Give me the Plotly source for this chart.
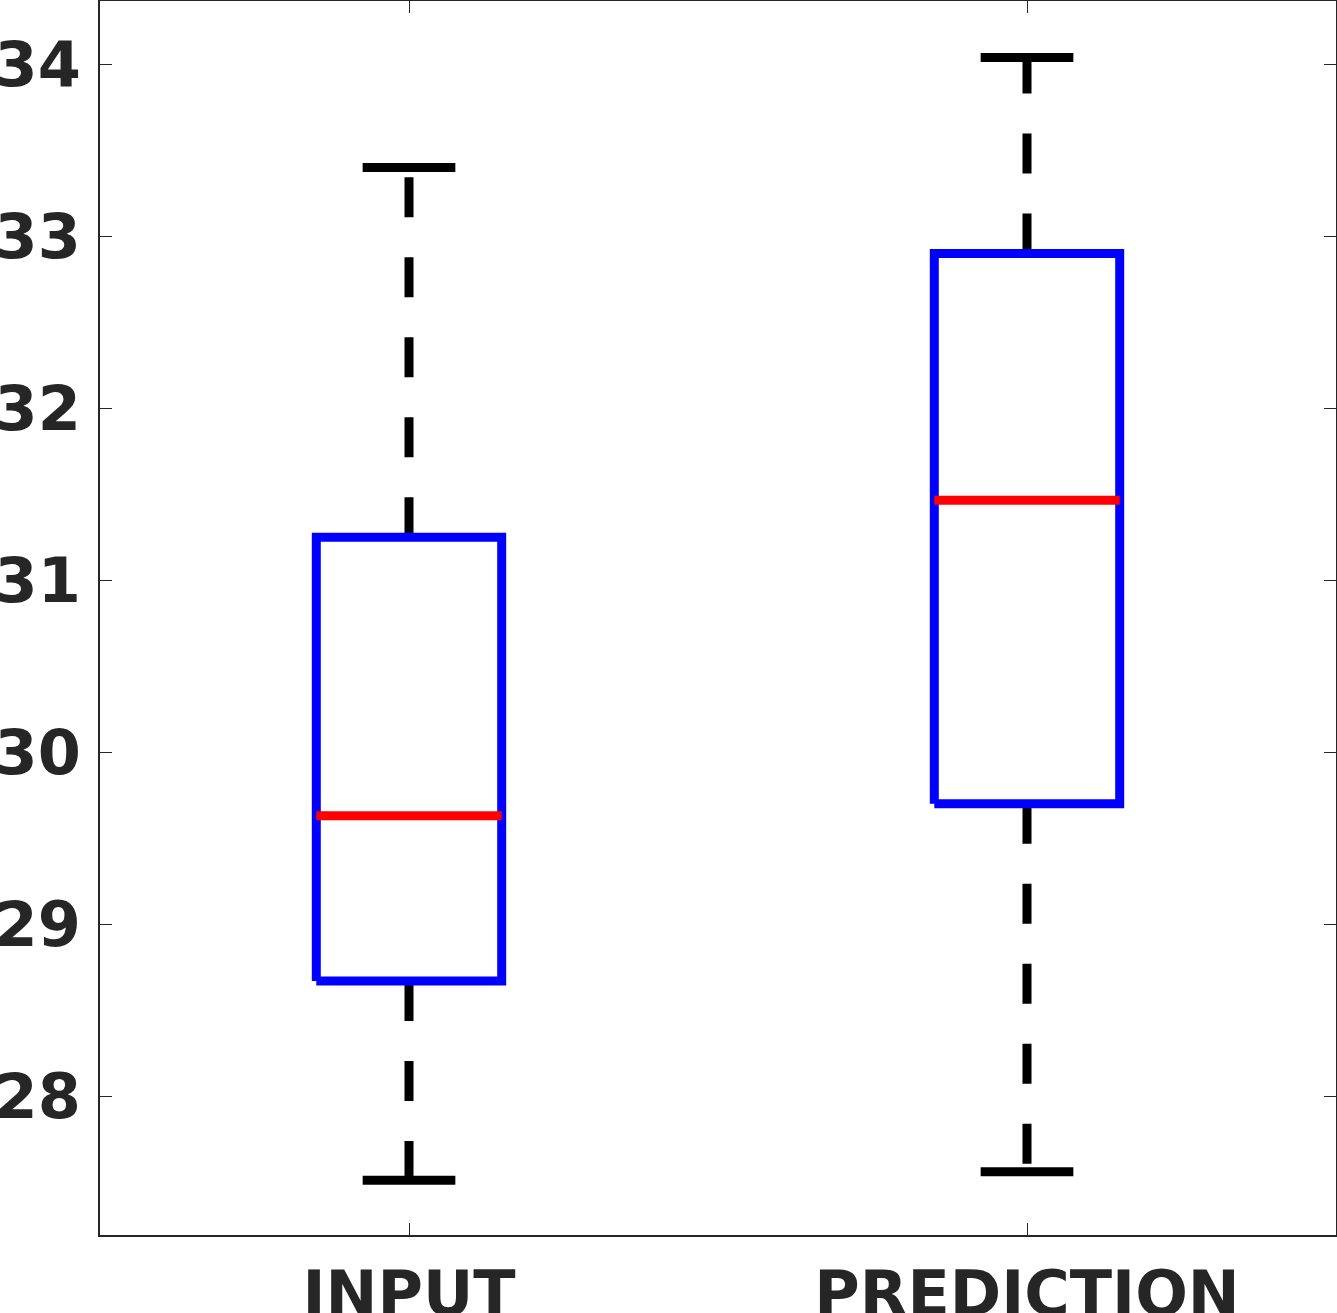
import plotly.graph_objects as go

categories = ["INPUT", "PREDICTION"]
lower_whisker = [27.51, 27.56]
q1 = [28.67, 29.70]
median = [29.63, 31.465]
q3 = [31.25, 32.90]
upper_whisker = [33.40, 34.04]
yticks = [28, 29, 30, 31, 32, 33, 34]

BOX_HALF = 0.15
CAP_HALF = 0.075
LW = 9

fig = go.Figure()
for i, name in enumerate(categories):
    x = i + 1
    # whiskers (dashed, pattern starting at the box edge)
    for end, edge in ((upper_whisker[i], q3[i]), (lower_whisker[i], q1[i])):
        fig.add_trace(go.Scatter(x=[x, x], y=[edge, end], mode="lines",
                                 line=dict(color="black", width=LW, dash="40px,40px"),
                                 showlegend=False, hoverinfo="skip"))
        fig.add_trace(go.Scatter(x=[x - CAP_HALF, x + CAP_HALF], y=[end, end], mode="lines",
                                 line=dict(color="black", width=LW),
                                 showlegend=False, hoverinfo="skip"))
    # box
    fig.add_trace(go.Scatter(
        x=[x - BOX_HALF, x + BOX_HALF, x + BOX_HALF, x - BOX_HALF, x - BOX_HALF],
        y=[q1[i], q1[i], q3[i], q3[i], q1[i]], mode="lines",
        line=dict(color="#0000FF", width=LW), showlegend=False, hoverinfo="skip"))
    # median
    fig.add_trace(go.Scatter(x=[x - BOX_HALF, x + BOX_HALF], y=[median[i], median[i]],
                             mode="lines", line=dict(color="#FF0000", width=LW),
                             showlegend=False, hoverinfo="skip"))

font = dict(family="DejaVu Sans", size=62, color="#262626")
fig.update_layout(
    width=1337, height=1313,
    margin=dict(l=100, r=1, t=1, b=78),
    plot_bgcolor="white", paper_bgcolor="white",
    showlegend=False,
)
fig.update_xaxes(range=[0.5, 2.5], tickvals=[1, 2], ticktext=[f"<b>{c}</b>" for c in categories],
                 tickfont=font, ticks="inside", ticklen=12, tickcolor="#262626",
                 ticklabelstandoff=4,
                 showline=True, linecolor="#262626", linewidth=1.5, mirror="ticks",
                 showgrid=False, zeroline=False, automargin=False)
fig.update_yaxes(range=[27.192, 34.369], tickvals=yticks, ticktext=[f"<b>{v}</b>" for v in yticks],
                 tickfont=font, ticks="inside", ticklen=12, tickcolor="#262626",
                 ticklabelstandoff=5,
                 showline=True, linecolor="#262626", linewidth=1.5, mirror="ticks",
                 showgrid=False, zeroline=False, automargin=False)

fig.write_html("out.html", config={"displayModeBar": False},
               post_script="document.body.style.margin='0';")
